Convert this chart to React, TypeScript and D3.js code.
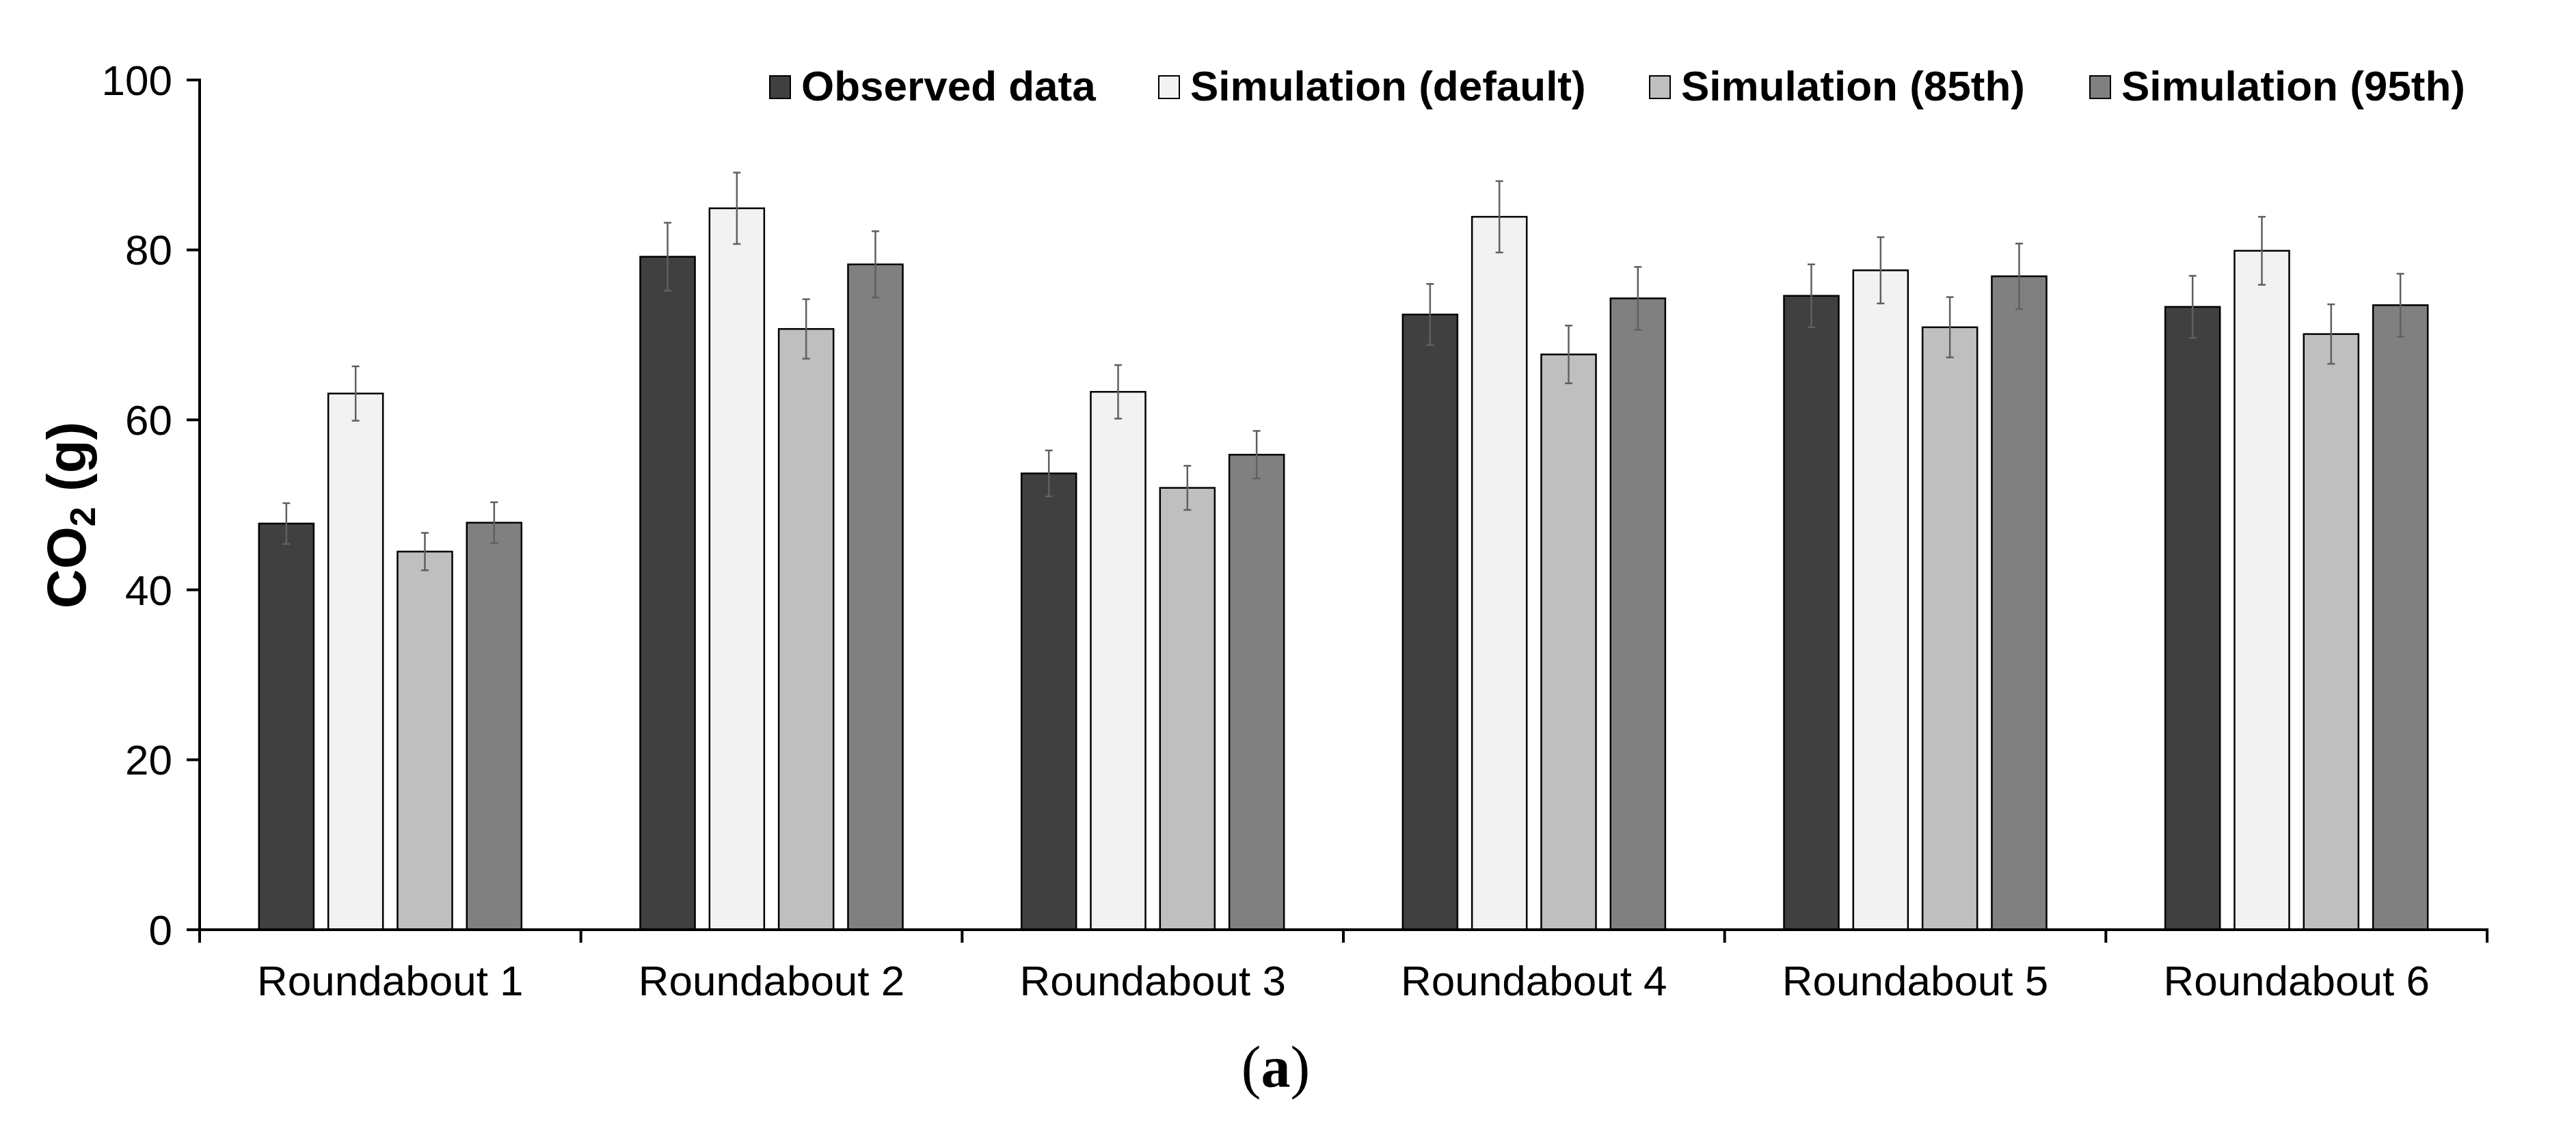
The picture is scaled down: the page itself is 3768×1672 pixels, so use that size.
import React from "react";
import * as d3 from "d3";

const categories = ["Roundabout 1", "Roundabout 2", "Roundabout 3", "Roundabout 4", "Roundabout 5", "Roundabout 6"];
const seriesNames = ["Observed data", "Simulation (default)", "Simulation (85th)", "Simulation (95th)"];
const observed = [47.8, 79.2, 53.7, 72.4, 74.6, 73.3];
const simDefault = [63.1, 84.9, 63.3, 83.9, 77.6, 79.9];
const sim85 = [44.5, 70.7, 52.0, 67.7, 70.9, 70.1];
const sim95 = [47.9, 78.3, 55.9, 74.3, 76.9, 73.5];
const observedErr = [2.4, 4.0, 2.7, 3.6, 3.7, 3.65];
const simDefaultErr = [3.2, 4.2, 3.15, 4.2, 3.9, 4.0];
const sim85Err = [2.2, 3.5, 2.6, 3.4, 3.55, 3.5];
const sim95Err = [2.4, 3.9, 2.8, 3.7, 3.85, 3.7];
const yTicks = [0, 20, 40, 60, 80, 100];

const colors = ["#404040", "#f2f2f2", "#bfbfbf", "#808080"];
const W = 3768;
const H = 1672;

export default function App() {
  const values = [observed, simDefault, sim85, sim95];
  const errors = [observedErr, simDefaultErr, sim85Err, sim95Err];

  const left = 292;
  const right = 3638;
  const top = 117;
  const bottom = 1360;

  const x = d3.scaleBand<string>().domain(categories).range([left, right]).padding(0);
  const xInner = d3
    .scaleBand<number>()
    .domain(d3.range(seriesNames.length))
    .range([0, x.bandwidth()])
    .paddingInner(0.21)
    .paddingOuter(0.857);
  const y = d3.scaleLinear().domain([0, 100]).range([bottom, top]);

  // legend item starts (swatch left edges)
  const legendX = [1126, 1695, 2413, 3057];
  const font = "'Liberation Sans', Arial, sans-serif";

  return (
    <svg width={W} height={H} style={{ position: "absolute", left: 0, top: 0, background: "#fff" }}>
      {/* bars + error bars */}
      {categories.map((c, ci) => (
        <g key={c} transform={`translate(${x(c)},0)`}>
          {values.map((s, si) => {
            const bx = xInner(si)!;
            const bw = xInner.bandwidth();
            const cx = bx + bw / 2;
            const v = s[ci];
            const e = errors[si][ci];
            return (
              <g key={si}>
                <rect x={bx} y={y(v)} width={bw} height={bottom - y(v)} fill={colors[si]} stroke="#000" strokeWidth={2.5} />
                <line x1={cx} x2={cx} y1={y(v + e)} y2={y(v - e)} stroke="#606060" strokeWidth={2.5} />
                <line x1={cx - 5.5} x2={cx + 5.5} y1={y(v + e)} y2={y(v + e)} stroke="#606060" strokeWidth={2.5} />
                <line x1={cx - 5.5} x2={cx + 5.5} y1={y(v - e)} y2={y(v - e)} stroke="#606060" strokeWidth={2.5} />
              </g>
            );
          })}
        </g>
      ))}

      {/* y axis */}
      <line x1={left} x2={left} y1={top - 2} y2={bottom} stroke="#000" strokeWidth={4} />
      {yTicks.map((t) => (
        <g key={t}>
          <line x1={left - 19} x2={left} y1={y(t)} y2={y(t)} stroke="#000" strokeWidth={4} />
          <text x={left - 40} y={y(t)} dy="0.35em" textAnchor="end" fontFamily={font} fontSize={62} fill="#000">
            {t}
          </text>
        </g>
      ))}

      {/* x axis */}
      <line x1={left - 19} x2={right + 2} y1={bottom} y2={bottom} stroke="#000" strokeWidth={4} />
      {[...categories.map((c) => x(c)!), right].map((px, i) => (
        <line key={i} x1={px} x2={px} y1={bottom} y2={bottom + 19} stroke="#000" strokeWidth={4} />
      ))}
      {categories.map((c) => (
        <text key={c} x={x(c)! + x.bandwidth() / 2} y={1456} textAnchor="middle" fontFamily={font} fontSize={62} fill="#000">
          {c}
        </text>
      ))}

      {/* y title */}
      <text
        transform={`translate(125,${(top + bottom) / 2 + 15}) rotate(-90)`}
        textAnchor="middle"
        fontFamily={font}
        fontWeight="bold"
        fontSize={80}
        fill="#000"
      >
        CO<tspan fontSize={52} dy={14}>2</tspan>
        <tspan dy={-14}> (g)</tspan>
      </text>

      {/* legend */}
      {seriesNames.map((n, i) => (
        <g key={n}>
          <rect x={legendX[i]} y={111} width={30} height={33} fill={colors[i]} stroke="#000" strokeWidth={2} />
          <text x={legendX[i] + 46} y={147} fontFamily={font} fontWeight="bold" fontSize={62} fill="#000">
            {n}
          </text>
        </g>
      ))}

      {/* caption */}
      <text x={1866} y={1590} textAnchor="middle" fontFamily="'Liberation Serif', 'DejaVu Serif', serif" fontSize={86} fill="#000">
        (<tspan fontWeight="bold">a</tspan>)
      </text>
    </svg>
  );
}
